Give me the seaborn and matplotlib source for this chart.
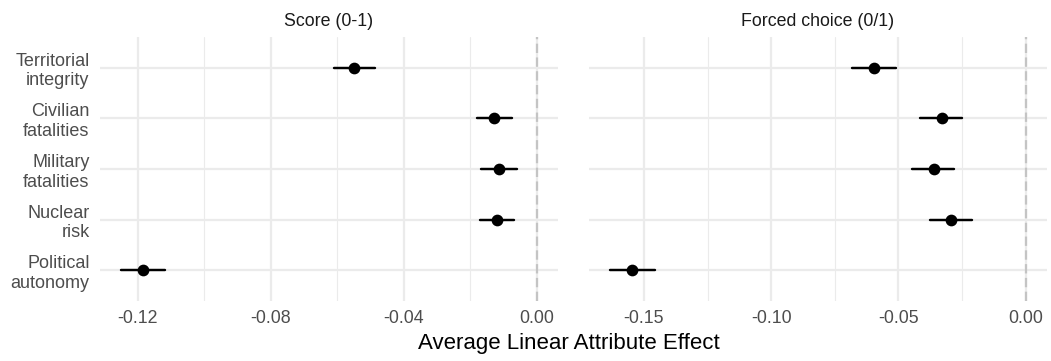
import matplotlib
matplotlib.use("Agg")
import matplotlib.pyplot as plt
from matplotlib.ticker import MultipleLocator, FuncFormatter
import numpy as np
import pandas as pd
import seaborn as sns

# Attribute labels (top to bottom) and facet titles
attributes = ["Territorial\nintegrity", "Civilian\nfatalities", "Military\nfatalities",
              "Nuclear\nrisk", "Political\nautonomy"]
outcomes = ["Score (0-1)", "Forced choice (0/1)"]

# Average linear attribute effects with 95% confidence bounds
score_est = [-0.0549, -0.0128, -0.0114, -0.0120, -0.1185]
score_lo = [-0.0610, -0.0180, -0.0168, -0.0171, -0.1251]
score_hi = [-0.0488, -0.0076, -0.0059, -0.0068, -0.1118]

forced_est = [-0.0597, -0.0330, -0.0362, -0.0293, -0.1546]
forced_lo = [-0.0684, -0.0414, -0.0445, -0.0375, -0.1635]
forced_hi = [-0.0511, -0.0249, -0.0281, -0.0212, -0.1458]

major_steps = [0.04, 0.05]

series = {
    outcomes[0]: (score_est, score_lo, score_hi),
    outcomes[1]: (forced_est, forced_lo, forced_hi),
}

# Long table: lower bound, estimate and upper bound per attribute; the median
# gives the estimate and the full percentile interval gives the bounds.
rows = []
for outcome, (est, lo, hi) in series.items():
    for a, e, l, h in zip(attributes, est, lo, hi):
        for v in (l, e, h):
            rows.append({"outcome": outcome, "attribute": a, "effect": v})
df = pd.DataFrame(rows)

sns.set_theme(style="white")
plt.rcParams["font.family"] = ["Liberation Sans", "DejaVu Sans"]

W, H = 1051, 361
fig = plt.figure(figsize=(W / 100, H / 100), dpi=100)
panel_left = [100, 588.7]
panel_w = 457.8
top, bottom = 37.3, 300.7

grid_col = "#EBEBEB"
text_col = "#4D4D4D"

for i, outcome in enumerate(outcomes):
    ax = fig.add_axes([panel_left[i] / W, 1 - bottom / H, panel_w / W, (bottom - top) / H])
    sub = df[df["outcome"] == outcome]

    ax.axvline(0, color="#C4C4C4", lw=1.6, ls=(0, (4.2, 2.0)), zorder=2)

    sns.pointplot(data=sub, x="effect", y="attribute", order=attributes,
                  estimator="median", errorbar=("pi", 100), orient="h",
                  color="black", linestyle="none", markers="o",
                  markersize=6.4, err_kws={"linewidth": 1.75}, ax=ax)
    for ln in ax.lines:
        ln.set_zorder(3)

    est, lo, hi = series[outcome]
    xmin, xmax = min(lo), max(0.0, max(hi))
    pad = 0.05 * (xmax - xmin)
    ax.set_xlim(xmin - pad, xmax + pad)
    ax.set_ylim(len(attributes) - 1 + 0.6, -0.6)

    step = major_steps[i]
    ax.xaxis.set_major_locator(MultipleLocator(step))
    ax.xaxis.set_minor_locator(MultipleLocator(step / 2))
    ax.xaxis.set_major_formatter(FuncFormatter(lambda v, p: f"{v:.2f}".replace("-0.00", "0.00")))

    ax.set_axisbelow(True)
    ax.grid(True, which="major", axis="both", color=grid_col, lw=1.6)
    ax.grid(True, which="minor", axis="x", color=grid_col, lw=0.8)
    for s in ax.spines.values():
        s.set_visible(False)
    ax.tick_params(axis="both", which="both", length=0)
    ax.tick_params(axis="x", labelsize=12.8, labelcolor=text_col, pad=7)
    ax.tick_params(axis="y", labelsize=13, labelcolor=text_col, pad=7.5)
    for t in ax.get_yticklabels():
        t.set_linespacing(1.2)
    if i > 0:
        ax.set_yticklabels([])
    ax.set_xlabel("")
    ax.set_ylabel("")
    ax.set_title(outcome, fontsize=12.8, color="#1A1A1A", pad=8)

fig.text(569 / W, 1 - 349 / H, "Average Linear Attribute Effect", ha="center",
         va="baseline", fontsize=16, color="black")

fig.savefig("out.png", dpi=100, facecolor="white")
